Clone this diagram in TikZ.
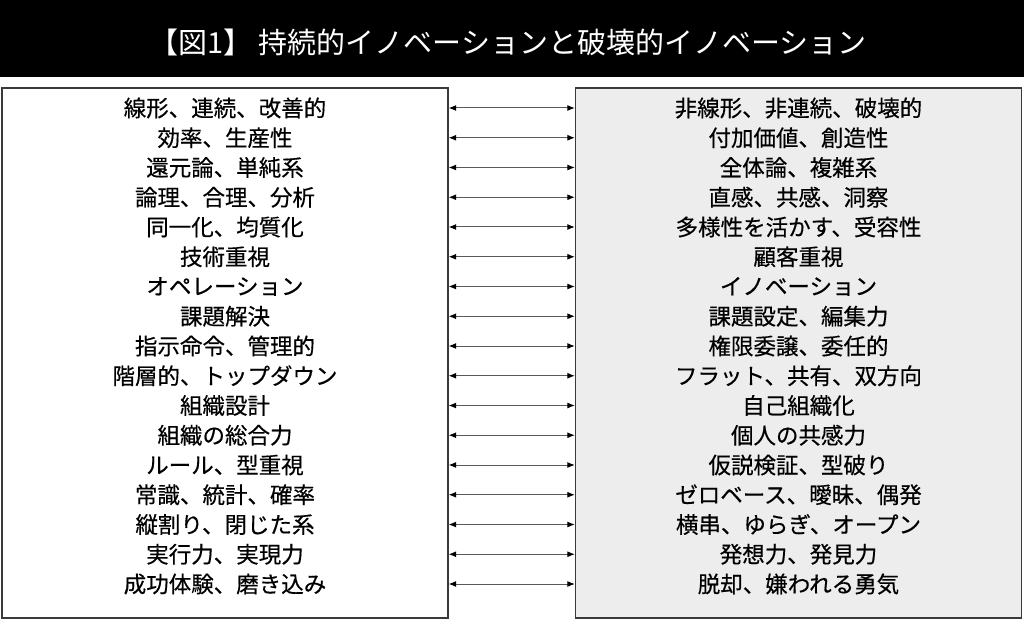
\documentclass[tikz,border=0pt]{standalone}
\usepackage{fontspec}
\setmainfont{Noto Sans CJK JP}
\newfontfamily\bodyfont[FakeBold=0.45]{Noto Sans CJK JP}
\usetikzlibrary{arrows.meta}
\definecolor{boxline}{HTML}{3A3A3A}
\definecolor{boxgray}{HTML}{EDEDED}
\definecolor{arrowgray}{HTML}{5A5A5A}
\tikzset{
  panel/.style={draw=boxline, line width=1.3bp, minimum width=446bp, minimum height=530bp, inner sep=0pt},
  rowtext/.style={font=\bodyfont\fontsize{22.5bp}{24bp}\selectfont, inner sep=0pt, anchor=center},
  link/.style={draw=arrowgray, line width=1bp, {Latex[length=7.5bp,width=6bp,color=black]}-{Latex[length=7.5bp,width=6bp,color=black]}},
  titlebar/.style={fill=black, minimum width=1024bp, minimum height=77bp, inner sep=0pt, anchor=north west}
}
\begin{document}
\begin{tikzpicture}[x=1bp,y=-1bp]
\useasboundingbox (0,0) rectangle (1024,620);
\node[titlebar] (title) at (0,0) {};
\node[text=white, font=\fontsize{29bp}{31bp}\selectfont, inner sep=0pt] (titletext) at (508,42) {【図1】 持続的イノベーションと破壊的イノベーション};
\node[panel] (lbox) at (225,353) {};
\node[panel, fill=boxgray] (rbox) at (798.5,353) {};
\foreach \i/\lt/\rt in {
 1/線形、連続、改善的/非線形、非連続、破壊的,
 2/効率、生産性/付加価値、創造性,
 3/還元論、単純系/全体論、複雑系,
 4/論理、合理、分析/直感、共感、洞察,
 5/同一化、均質化/多様性を活かす、受容性,
 6/技術重視/顧客重視,
 7/オペレーション/イノベーション,
 8/課題解決/課題設定、編集力,
 9/指示命令、管理的/権限委譲、委任的,
 10/階層的、トップダウン/フラット、共有、双方向,
 11/組織設計/自己組織化,
 12/組織の総合力/個人の共感力,
 13/ルール、型重視/仮説検証、型破り,
 14/常識、統計、確率/ゼロベース、曖昧、偶発,
 15/縦割り、閉じた系/横串、ゆらぎ、オープン,
 16/実行力、実現力/発想力、発見力,
 17/成功体験、磨き込み/脱却、嫌われる勇気}{
  \pgfmathsetmacro{\yy}{108+(\i-1)*29.75}
  \node[rowtext] (L\i) at (225,\yy) {\lt};
  \node[rowtext] (R\i) at (798.5,\yy) {\rt};
  \draw[link] (L\i -| lbox.east) -- (R\i -| rbox.west);
}
\end{tikzpicture}
\end{document}
